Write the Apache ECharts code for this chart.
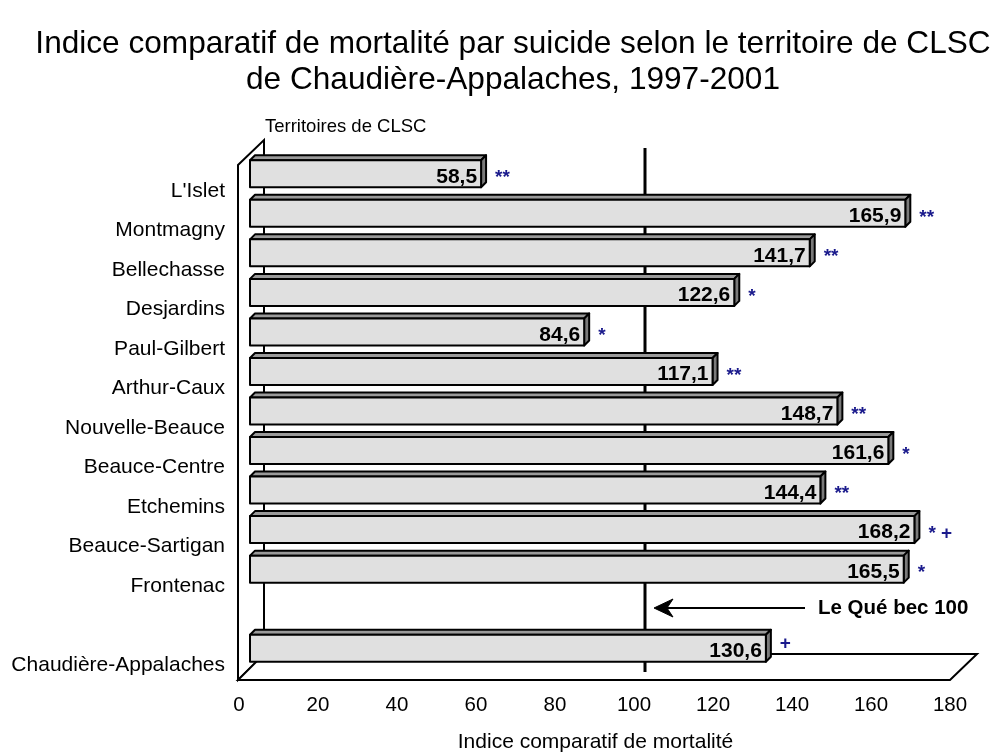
<!DOCTYPE html>
<html>
<head>
<meta charset="utf-8">
<script src="https://cdn.jsdelivr.net/npm/echarts@6/dist/echarts.min.js"></script>
<style>
  html, body { margin: 0; padding: 0; background: #fff; }
  #chart { width: 1002px; height: 752px; }
</style>
</head>
<body>
<div id="chart"></div>
<script>
// territoires de CLSC (case vide = espace avant la région)
const territoires = ["L'Islet", 'Montmagny', 'Bellechasse', 'Desjardins', 'Paul-Gilbert', 'Arthur-Caux',
    'Nouvelle-Beauce', 'Beauce-Centre', 'Etchemins', 'Beauce-Sartigan', 'Frontenac', '', 'Chaudière-Appalaches'];
const indices = [58.5, 165.9, 141.7, 122.6, 84.6, 117.1, 148.7, 161.6, 144.4, 168.2, 165.5, null, 130.6];
const signes = ['**', '**', '**', '*', '*', '**', '**', '*', '**', '* +', '*', '', '+'];
const xTicks = [0, 20, 40, 60, 80, 100, 120, 140, 160, 180];
const referenceQuebec = 100;

const FONT = "'Liberation Sans', Arial, sans-serif";
const chart = echarts.init(document.getElementById('chart'));

const barData = [];
indices.forEach((v, i) => { if (v !== null) barData.push([v, i]); });
const regionIdx = territoires.length - 1;

const fmt = v => v.toFixed(1).replace('.', ',');

// barre pseudo-3D : face avant + dessus + côté
const renderBar = (params, api) => {
    const v = api.value(0);
    const idx = api.value(1);
    const p0 = api.coord([0, idx]);
    const p1 = api.coord([v, idx]);
    const h = 27, d = 5;
    const x0 = p0[0], x1 = p1[0];
    const y0 = p0[1] - h / 2, y1 = p0[1] + h / 2;
    const line = { stroke: '#000', lineWidth: 2, lineJoin: 'round' };
    // le signe de la région est placé un peu plus haut
    const signDy = idx === regionIdx ? -4 : 4;
    return {
        type: 'group',
        children: [
            { type: 'polygon', shape: { points: [[x0, y0], [x0 + d, y0 - d], [x1 + d, y0 - d], [x1, y0]] },
              style: Object.assign({ fill: '#9a9a9a' }, line) },
            { type: 'polygon', shape: { points: [[x1, y0], [x1 + d, y0 - d], [x1 + d, y1 - d], [x1, y1]] },
              style: Object.assign({ fill: '#7a7a7a' }, line) },
            { type: 'rect', shape: { x: x0, y: y0, width: x1 - x0, height: h },
              style: Object.assign({ fill: '#e0e0e0' }, line) },
            { type: 'text', x: x1 - 4, y: p0[1] + 3,
              style: { text: fmt(v), align: 'right', verticalAlign: 'middle', fill: '#000',
                       font: 'bold 21px ' + FONT } },
            { type: 'text', x: x1 + d + 9, y: p0[1] + signDy,
              style: { text: signes[idx], align: 'left', verticalAlign: 'middle', fill: '#1a1a8c',
                       font: 'bold 19px ' + FONT } }
        ]
    };
};

// ligne verticale du Québec (derrière les barres)
const renderRef = (params, api) => {
    const p = api.coord([api.value(0), 0]);
    const cs = params.coordSys;
    return {
        type: 'line',
        shape: { x1: p[0], y1: cs.y - 6, x2: p[0], y2: cs.y + cs.height + 4 },
        style: { stroke: '#000', lineWidth: 3 }
    };
};

const option = {
    backgroundColor: '#fff',
    animation: false,
    grid: { left: 250, right: 41, top: 154, bottom: 84, outerBoundsMode: 'none' },
    xAxis: {
        type: 'value',
        min: xTicks[0],
        max: xTicks[xTicks.length - 1],
        interval: 20,
        name: 'Indice comparatif de mortalité',
        nameLocation: 'middle',
        nameGap: 64,
        nameTextStyle: { fontFamily: FONT, fontSize: 21, color: '#000', padding: [0, 20, 0, 0] },
        axisLine: { show: false },
        axisTick: { show: false },
        splitLine: { show: false },
        axisLabel: { fontFamily: FONT, fontSize: 20.5, color: '#000', margin: 27, padding: [0, 22, 0, 0] }
    },
    yAxis: {
        type: 'category',
        inverse: true,
        data: territoires,
        axisLine: { show: false },
        axisTick: { show: false },
        axisLabel: { fontFamily: FONT, fontSize: 21, color: '#000', margin: 25,
                     verticalAlign: 'top', lineHeight: 34 }
    },
    graphic: [
        // titre
        { type: 'text', x: 513, y: 26,
          style: { text: 'Indice comparatif de mortalité par suicide selon le territoire de CLSC\nde Chaudière-Appalaches, 1997-2001',
                   font: '31.6px ' + FONT, fill: '#000', align: 'center', lineHeight: 36 } },
        // paroi gauche et plancher
        { type: 'polygon', z: 0, shape: { points: [[238, 165], [264, 140], [264, 655], [238, 680]] },
          style: { fill: '#fff', stroke: '#000', lineWidth: 2 } },
        { type: 'polygon', z: 0, shape: { points: [[238, 680], [950, 680], [977, 654], [264, 654]] },
          style: { fill: '#fff', stroke: '#000', lineWidth: 2 } },
        { type: 'text', left: 265, top: 117,
          style: { text: 'Territoires de CLSC', font: '18.5px ' + FONT, fill: '#000' } },
        // flèche Le Québec
        { type: 'line', z: 10, shape: { x1: 665, y1: 608, x2: 805, y2: 608 },
          style: { stroke: '#000', lineWidth: 2 } },
        { type: 'polygon', z: 10, shape: { points: [[654, 608], [673, 599], [667, 608], [673, 617]] },
          style: { fill: '#000', stroke: '#000', lineWidth: 1 } },
        { type: 'text', z: 10, x: 818, y: 608,
          style: { text: 'Le Qué bec 100', font: 'bold 20.5px ' + FONT, fill: '#000', verticalAlign: 'middle' } }
    ],
    series: [
        {
            type: 'custom',
            z: 1,
            silent: true,
            renderItem: renderRef,
            encode: { x: 0 },
            data: [[referenceQuebec]]
        },
        {
            type: 'custom',
            z: 3,
            renderItem: renderBar,
            encode: { x: 0, y: 1 },
            data: barData
        }
    ]
};

chart.setOption(option);
</script>
</body>
</html>
